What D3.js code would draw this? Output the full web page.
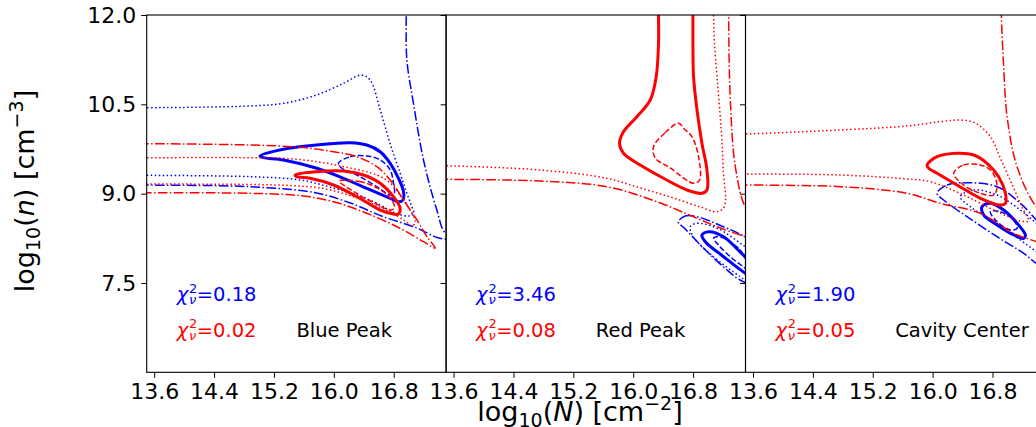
<!DOCTYPE html>
<html>
<head>
<meta charset="utf-8">
<script src="https://cdn.jsdelivr.net/npm/d3@7"></script>
<style>
  html, body { margin: 0; padding: 0; background: #fff; }
  svg { display: block; font-family: "DejaVu Sans", sans-serif; }
</style>
</head>
<body>
<svg id="fig" width="1036" height="427"></svg>
<script>
// ---- axis settings ----
const xDomain = [13.5, 17.5];
const yDomain = [6, 12];
const xTicks = [13.6, 14.4, 15.2, 16.0, 16.8];
const yTicks = [7.5, 9.0, 10.5, 12.0];

// ---- panel annotations ----
const panelTitles = ["Blue Peak", "Red Peak", "Cavity Center"];
const chi2Blue = ["0.18", "3.46", "1.90"];
const chi2Red = ["0.02", "0.08", "0.05"];

// ---- contour lines, [log N, log n] ----
// Blue Peak panel
const bpBlueDashdot = [[13.40,9.15],[13.50,9.145],[14.88,9.117],[15.77,9.011],[16.22,8.843],[16.66,8.613],[17.11,8.423],[17.38,8.264],[17.52,8.235],[17.66,8.24],[17.66,8.30],[17.49,8.339],[17.376,8.725],[17.198,9.565],[17.064,10.517],[16.976,11.244],[16.967,12.0],[16.965,12.3]];
const bpBlueDot = [[13.40,10.443],[13.50,10.443],[14.88,10.472],[15.33,10.517],[15.77,10.657],[16.13,10.853],[16.37,10.992],[16.485,10.908],[16.62,10.405],[16.75,9.846],[16.886,9.342],[16.976,9.006],[17.033,8.809],[17.07,8.66],[17.0,8.625],[16.82,8.675],[16.62,8.81],[16.35,8.96],[15.95,9.11],[15.55,9.23],[14.88,9.285],[13.50,9.308],[13.40,9.31]];
const bpBlueSolid = [[15.015,9.632],[15.326,9.745],[15.773,9.817],[16.218,9.856],[16.441,9.817],[16.619,9.704],[16.753,9.510],[16.864,9.258],[16.931,9.033],[16.923,8.893],[16.864,8.865],[16.753,8.922],[16.441,9.090],[16.128,9.258],[15.773,9.426],[15.326,9.565],[15.059,9.604]];
const bpBlueDash = [[16.062,9.510],[16.218,9.620],[16.441,9.632],[16.619,9.565],[16.753,9.397],[16.797,9.174],[16.806,8.994],[16.753,8.977],[16.575,9.117],[16.308,9.313],[16.108,9.426]];
const bpRedDashdot = [[13.40,9.839],[13.50,9.839],[14.88,9.817],[15.55,9.778],[15.995,9.704],[16.308,9.620],[16.575,9.453],[16.753,9.229],[16.931,8.893],[17.11,8.558],[17.243,8.277],[17.354,8.087],[17.198,8.193],[16.886,8.418],[16.441,8.670],[15.995,8.865],[15.55,8.966],[14.88,9.006],[13.50,9.016],[13.40,9.017]];
const bpRedDot = [[13.40,9.604],[13.50,9.604],[14.88,9.604],[15.326,9.594],[15.773,9.537],[16.151,9.448],[16.575,9.313],[16.753,9.179],[16.886,8.977],[17.02,8.725],[17.087,8.524],[17.047,8.457],[16.954,8.541],[16.753,8.692],[16.485,8.843],[16.151,8.994],[15.817,9.095],[15.416,9.137],[14.88,9.154],[13.50,9.162],[13.40,9.163]];
const bpRedSolid = [[15.483,9.313],[15.773,9.369],[16.128,9.380],[16.396,9.313],[16.619,9.174],[16.797,8.949],[16.886,8.754],[16.864,8.658],[16.797,8.658],[16.619,8.725],[16.308,8.949],[15.995,9.145],[15.683,9.258],[15.505,9.285]];
const bpRedDash = [[16.075,9.212],[16.342,9.204],[16.582,9.095],[16.753,8.927],[16.81,8.776],[16.77,8.725],[16.54,8.843],[16.275,9.028]];

// Red Peak panel
const rpBlueDashdot = [[16.602,8.524],[16.695,8.625],[16.856,8.613],[17.203,8.445],[17.497,8.277],[17.765,8.054],[17.80,7.70],[17.765,7.466],[17.471,7.521],[17.203,7.773],[16.922,8.109],[16.682,8.423]];
const rpBlueDot = [[16.762,8.445],[16.856,8.502],[17.123,8.418],[17.497,8.109],[17.765,7.886],[17.80,7.65],[17.765,7.466],[17.497,7.550],[17.430,7.606],[17.070,7.941],[16.802,8.277]];
const rpBlueSolid = [[16.918,8.306],[17.007,8.361],[17.207,8.277],[17.497,7.941],[17.765,7.718],[17.80,7.58],[17.765,7.466],[17.497,7.663],[17.207,7.941],[16.963,8.193]];
const rpBlueDash = [[17.074,8.250],[17.163,8.277],[17.430,8.054],[17.497,7.914],[17.698,7.718],[17.72,7.63],[17.698,7.550],[17.497,7.746],[17.297,7.941],[17.118,8.166]];
const rpRedDashdot = [[13.40,9.243],[13.50,9.241],[14.757,9.212],[15.648,9.117],[16.317,8.865],[16.852,8.586],[17.163,8.423],[17.501,8.272],[17.696,8.171],[17.763,8.474],[17.59,8.69],[17.497,8.781],[17.364,9.453],[17.297,10.573],[17.274,12.0],[17.272,12.3]];
const rpRedDot = [[13.40,9.470],[13.50,9.469],[14.757,9.397],[15.648,9.258],[16.094,9.095],[16.539,8.927],[16.896,8.776],[17.119,8.697],[17.217,8.781],[17.203,9.397],[17.176,10.069],[17.123,10.908],[17.083,11.580],[17.074,12.0],[17.073,12.3]];
const rpRedSolid = [[16.338,12.3],[16.338,12.0],[16.338,11.525],[16.307,10.964],[16.227,10.573],[16.049,10.292],[15.870,10.040],[15.817,9.846],[15.870,9.678],[16.094,9.481],[16.405,9.258],[16.718,9.061],[16.918,9.006],[16.985,9.061],[16.985,9.397],[16.918,9.846],[16.852,10.405],[16.806,10.964],[16.798,11.525],[16.798,12.0],[16.798,12.3]];
const rpRedDash = [[16.606,10.181],[16.422,10.018],[16.271,9.788],[16.294,9.599],[16.495,9.431],[16.806,9.174],[16.886,9.229],[16.873,9.621],[16.785,9.956],[16.682,10.086]];

// Cavity Center panel
const ccBlueDashdot = [[16.059,9.006],[16.193,9.145],[16.460,9.184],[16.861,9.117],[17.172,8.838],[17.386,8.558],[17.573,8.306],[17.65,8.0],[17.573,7.70],[17.386,7.830],[17.217,7.998],[16.861,8.277],[16.460,8.613],[16.147,8.893]];
const ccBlueDot = [[16.370,8.949],[16.548,9.061],[16.861,8.977],[17.172,8.725],[17.386,8.502],[17.573,8.289],[17.62,8.05],[17.573,7.852],[17.386,8.025],[17.172,8.222],[16.861,8.502],[16.504,8.781]];
const ccBlueSolid = [[16.660,8.781],[16.771,8.838],[16.949,8.725],[17.128,8.502],[17.239,8.306],[17.217,8.250],[17.083,8.306],[16.861,8.474],[16.682,8.642]];
const ccBlueDash = [[16.771,8.697],[16.905,8.697],[17.083,8.558],[17.128,8.418],[17.039,8.390],[16.861,8.529]];
const ccRedDashdot = [[13.40,9.146],[13.50,9.145],[14.766,9.117],[15.658,9.006],[16.103,8.838],[16.638,8.670],[17.083,8.334],[17.386,8.193],[17.573,8.104],[17.70,8.30],[17.59,8.60],[17.386,8.781],[17.128,9.453],[16.995,10.292],[16.949,11.132],[16.918,12.0],[16.915,12.3]];
const ccRedDot = [[13.40,10.002],[13.50,10.002],[14.766,10.069],[15.658,10.136],[16.103,10.208],[16.370,10.237],[16.570,10.186],[16.771,9.956],[16.905,9.594],[17.065,9.145],[17.199,8.759],[17.279,8.541],[17.172,8.541],[16.861,8.697],[16.414,8.977],[15.969,9.201],[15.658,9.246],[14.766,9.313],[13.50,9.330],[13.40,9.331]];
const ccRedSolid = [[15.925,9.481],[16.059,9.620],[16.326,9.678],[16.548,9.649],[16.727,9.510],[16.882,9.285],[16.972,9.006],[16.972,8.838],[16.882,8.809],[16.638,8.922],[16.326,9.145],[16.059,9.342],[15.947,9.426]];
const ccRedDash = [[16.281,9.342],[16.414,9.481],[16.638,9.481],[16.794,9.369],[16.861,9.117],[16.816,8.977],[16.638,9.006],[16.414,9.145]];

// ---- contour line styles ----
const lineStyles = {
  dash:    { width: 1.5, dash: "5.5,2.4" },
  solid:   { width: 3.0, dash: null },
  dot:     { width: 1.5, dash: "1.5,2.5" },
  dashdot: { width: 1.5, dash: "9.6,2.4,1.5,2.4" }
};
const colors = { blue: "#0000ff", red: "#ff0000" };

// each panel: [line points, colour, style, closed loop?]
const panelContours = [
  [
    [bpBlueDashdot, "blue", "dashdot", false],
    [bpBlueDot, "blue", "dot", false],
    [bpBlueSolid, "blue", "solid", true],
    [bpBlueDash, "blue", "dash", true],
    [bpRedDashdot, "red", "dashdot", false],
    [bpRedDot, "red", "dot", false],
    [bpRedSolid, "red", "solid", true],
    [bpRedDash, "red", "dash", true]
  ],
  [
    [rpBlueDashdot, "blue", "dashdot", true],
    [rpBlueDot, "blue", "dot", true],
    [rpBlueSolid, "blue", "solid", true],
    [rpBlueDash, "blue", "dash", true],
    [rpRedDashdot, "red", "dashdot", false],
    [rpRedDot, "red", "dot", false],
    [rpRedSolid, "red", "solid", false],
    [rpRedDash, "red", "dash", true]
  ],
  [
    [ccBlueDashdot, "blue", "dashdot", true],
    [ccBlueDot, "blue", "dot", true],
    [ccBlueSolid, "blue", "solid", true],
    [ccBlueDash, "blue", "dash", true],
    [ccRedDashdot, "red", "dashdot", false],
    [ccRedDot, "red", "dot", false],
    [ccRedSolid, "red", "solid", true],
    [ccRedDash, "red", "dash", true]
  ]
];

// ---- layout ----
const svg = d3.select("#fig");
const firstLeft = 146.7, panelW = 299.4, plotTop = 15, plotBottom = 372.3;
const tickFont = "22px", annFont = "19.5px", labelFont = "27px";

const y = d3.scaleLinear().domain(yDomain).range([plotBottom, plotTop]);

function chiLabel(g, x0, yb, value, color) {
  const t = g.append("text").attr("x", x0).attr("y", yb).attr("fill", color)
    .style("font-size", annFont).style("font-style", "italic").text("χ");
  const xs = x0 + t.node().getComputedTextLength() + 0.8;
  const sup = g.append("text").attr("x", xs).attr("y", yb - 8.3).attr("fill", color)
    .style("font-size", "13px").text("2");
  const sub = g.append("text").attr("x", xs).attr("y", yb + 3.6).attr("fill", color)
    .style("font-size", "13px").style("font-style", "italic").text("ν");
  const w2 = Math.max(sup.node().getComputedTextLength(), sub.node().getComputedTextLength());
  g.append("text").attr("x", xs + w2 - 0.5).attr("y", yb).attr("fill", color)
    .style("font-size", annFont).text("=" + value);
}

panelContours.forEach((lines, i) => {
  const left = firstLeft + i * panelW;
  const x = d3.scaleLinear().domain(xDomain).range([left, left + panelW]);
  const g = svg.append("g");

  const clipId = "clip" + i;
  svg.append("clipPath").attr("id", clipId)
    .append("rect").attr("x", left).attr("y", plotTop)
    .attr("width", panelW).attr("height", plotBottom - plotTop);

  const plot = g.append("g").attr("clip-path", `url(#${clipId})`);
  lines.forEach(([pts, col, style, closed]) => {
    const gen = d3.line()
      .x(d => x(d[0])).y(d => y(d[1]))
      .curve(closed ? d3.curveCatmullRomClosed.alpha(0.5) : d3.curveCatmullRom.alpha(0.5));
    const st = lineStyles[style];
    plot.append("path")
      .attr("d", gen(pts))
      .attr("fill", "none")
      .attr("stroke", colors[col])
      .attr("stroke-width", st.width)
      .attr("stroke-dasharray", st.dash)
      .attr("stroke-linejoin", "round");
  });

  // x axis
  const xa = g.append("g").attr("transform", `translate(0,${plotBottom})`)
    .call(d3.axisBottom(x).tickValues(xTicks).tickFormat(d3.format(".1f"))
      .tickSize(5.5).tickPadding(5.5).tickSizeOuter(0));
  // y axis (labels only on the first panel)
  const ya = g.append("g").attr("transform", `translate(${left},0)`)
    .call(d3.axisLeft(y).tickValues(yTicks)
      .tickFormat(i === 0 ? d3.format(".1f") : () => "")
      .tickSize(5.5).tickPadding(5).tickSizeOuter(0));
  [xa, ya].forEach(a => {
    a.select(".domain").remove();
    a.selectAll(".tick line").attr("stroke", "#000").attr("stroke-width", 1);
    a.selectAll(".tick text").attr("fill", "#000")
      .style("font-size", tickFont).style("font-family", "DejaVu Sans");
  });

  // frame
  g.append("rect").attr("x", left).attr("y", plotTop)
    .attr("width", panelW).attr("height", plotBottom - plotTop)
    .attr("fill", "none").attr("stroke", "#000").attr("stroke-width", 1.1);

  // reduced chi-square annotations and panel title
  chiLabel(g, x(13.9), y(7.2), chi2Blue[i], colors.blue);
  chiLabel(g, x(13.9), y(6.6), chi2Red[i], colors.red);
  g.append("text").attr("x", x(15.5)).attr("y", y(6.6))
    .style("font-size", annFont).attr("fill", "#000").text(panelTitles[i]);
});

// axis titles
function mathLabel(sel, symbol, power) {
  sel.append("tspan").text("log");
  sel.append("tspan").attr("dy", 6).style("font-size", "19px").text("10");
  sel.append("tspan").attr("dy", -6).text("(");
  sel.append("tspan").style("font-style", "italic").text(symbol);
  sel.append("tspan").text(") [cm");
  sel.append("tspan").attr("dy", -11).style("font-size", "19px").text("−" + power);
  sel.append("tspan").attr("dy", 11).text("]");
}
const xl = svg.append("text").attr("x", 580).attr("y", 421)
  .attr("text-anchor", "middle").style("font-size", labelFont);
mathLabel(xl, "N", "2");
const yl = svg.append("text").attr("transform", "translate(33.5,191) rotate(-90)")
  .attr("text-anchor", "middle").style("font-size", labelFont);
mathLabel(yl, "n", "3");
</script>
</body>
</html>
